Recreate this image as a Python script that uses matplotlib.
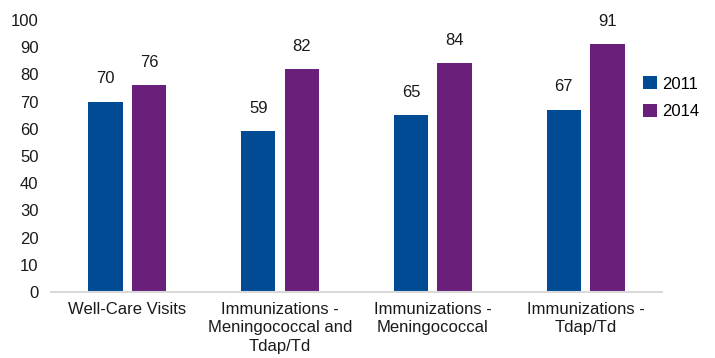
import matplotlib.pyplot as plt
import numpy as np

plt.rcParams['font.family'] = ['Liberation Sans', 'DejaVu Sans']

categories = ['Well-Care Visits',
              'Immunizations -\nMeningococcal and\nTdap/Td',
              'Immunizations -\nMeningococcal',
              'Immunizations -\nTdap/Td']
vals_2011 = [70, 59, 65, 67]
vals_2014 = [76, 82, 84, 91]
series = ['2011', '2014']
colors = ['#004b93', '#6a1f7a']

fig = plt.figure(figsize=(7.15, 3.58), dpi=100)
ax = fig.add_axes([0.0713, 0.1844, 0.8545, 0.7600])

x = np.arange(len(categories))
w = 0.225
off = 0.143
b1 = ax.bar(x - off, vals_2011, w, color=colors[0], label=series[0])
b2 = ax.bar(x + off, vals_2014, w, color=colors[1], label=series[1])

for bars in (b1, b2):
    for r in bars:
        ax.annotate(f'{r.get_height():.0f}', (r.get_x() + r.get_width() / 2, r.get_height()),
                    xytext=(0, 11), textcoords='offset points', ha='center', va='bottom',
                    fontsize=12, color='#1a1a1a')

ax.set_xlim(-0.5, 3.5)
ax.set_ylim(0, 100)
ax.set_yticks(range(0, 101, 10))
ax.set_xticks(x)
ax.set_xticklabels(categories, fontsize=12, color='#1a1a1a', linespacing=1.3, va='top')
ax.tick_params(axis='both', length=0, labelsize=12, colors='#1a1a1a')
ax.tick_params(axis='x', pad=7)
ax.tick_params(axis='y', pad=9)
for s in ['top', 'right', 'left']:
    ax.spines[s].set_visible(False)
ax.spines['bottom'].set_color('#d9d9d9')
ax.spines['bottom'].set_linewidth(1.5)

fig.legend(loc='upper left', bbox_to_anchor=(0.89, 0.806), frameon=False,
           fontsize=12, handlelength=0.85, handleheight=0.85, handletextpad=0.3,
           labelspacing=0.75, borderaxespad=0)

fig.savefig('out.png', dpi=100)
